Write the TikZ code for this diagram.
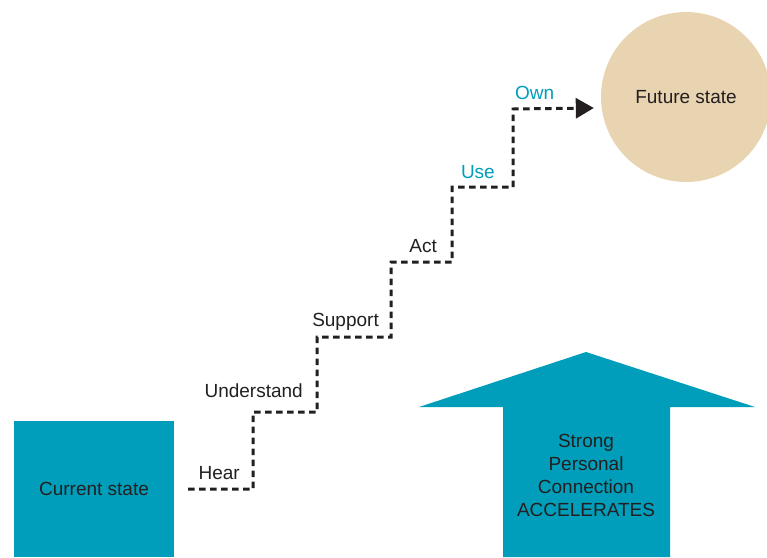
\documentclass[tikz,border=0pt]{standalone}
\usepackage{fontspec}
\setmainfont{Liberation Sans}
\usepackage{tikz}
\usepackage{xcolor}
\usetikzlibrary{arrows.meta}
\definecolor{teal-blue}{HTML}{009EBA}
\definecolor{sand}{HTML}{E9D4B2}
\definecolor{ink}{HTML}{231F20}
\tikzset{
    state-box/.style = {fill=teal-blue, draw=none, rectangle, minimum width=160pt, minimum height=136pt, text=ink},
    state-circle/.style = {fill=sand, draw=none, circle, minimum size=170pt, text=ink},
    step-label/.style = {text=ink, inner sep=0pt, anchor=base east},
    stair-line/.style = {draw=ink, line width=3pt, dash pattern=on 6.5pt off 4.5pt, -{Triangle[length=18pt,width=20pt]}},
}

\begin{document}
\begin{tikzpicture}[x=1pt, y=-1pt, font=\fontsize{19}{23}\selectfont]
\useasboundingbox (0,0) rectangle (767,557);
\node [state-box] (current) at (94,489) {Current state};
\node [state-circle] (future) at (686,97) {Future state};
% accelerating arrow
\fill [teal-blue] (586,352) -- (755,407) -- (670,407) -- (670,557) -- (503,557) -- (503,407) -- (419,407) -- cycle;
\node [text=ink, align=center] (accel) at (586,475) {Strong\\Personal\\Connection\\ACCELERATES};
% the stairs
\coordinate (start) at ([xshift=14pt]current.east);
\draw [stair-line] (start) -- ++(65,0) -- ++(0,-77) -- ++(64,0) -- ++(0,-75) -- ++(74,0) -- ++(0,-75) -- ++(61,0) -- ++(0,-75) -- ++(61,0) -- ++(0,-78) -- ([xshift=-7pt]future.west |- 0,108);
\node [step-label] (hear) at (240,479) {Hear};
\node [step-label] (understand) at (303,397) {Understand};
\node [step-label] (support) at (379,326) {Support};
\node [step-label] (act) at (437,252) {Act};
\node [step-label, text=teal-blue] (use) at (495,178) {Use};
\node [step-label, text=teal-blue, anchor=base west] (own) at (515,99) {Own};
\end{tikzpicture}
\end{document}
